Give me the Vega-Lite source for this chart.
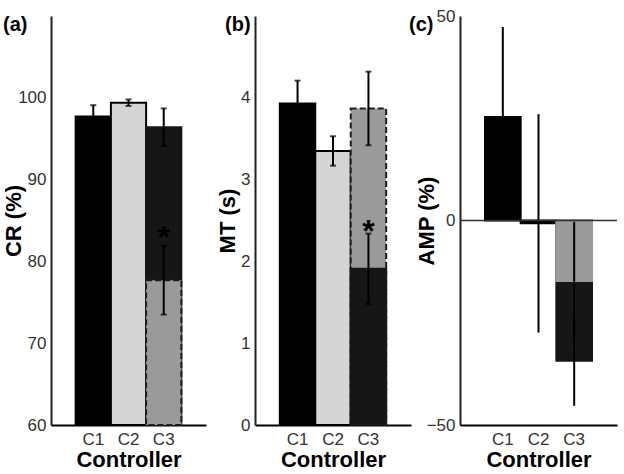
{
  "$schema": "https://vega.github.io/schema/vega-lite/v6.json",
  "autosize": {"type": "pad"},
  "padding": {"left": 2, "top": 7, "right": 0, "bottom": 0},
  "spacing": 49,
  "bounds": "flush",
  "background": "#ffffff",
  "config": {
    "view": {"stroke": null},
    "font": "Liberation Sans",
    "axis": {
      "grid": false, "ticks": false,
      "labelFont": "Liberation Sans", "labelFontSize": 17, "labelColor": "#333333",
      "titleFont": "Liberation Sans", "titleFontSize": 22, "titleFontWeight": "bold", "titleColor": "#000000",
      "domainColor": "#222222", "domainWidth": 2, "labelPadding": 5
    },
    "axisX": {"labelAngle": 0, "labelPadding": 6, "titlePadding": 2, "domainColor": "#000000"},
    "title": {"font": "Liberation Sans", "fontSize": 20, "fontWeight": "bold", "color": "#000000", "anchor": "start", "frame": "group", "baseline": "middle"}
  },
  "datasets": {
    "cr": [
      {"ctrl": "C1", "kind": "black", "value": 97.7, "lo": 96.3, "hi": 99.1},
      {"ctrl": "C2", "kind": "light", "value": 99.4, "lo": 99.0, "hi": 99.8},
      {"ctrl": "C3", "kind": "dark", "value": 96.4, "lo": 94.1, "hi": 98.7},
      {"ctrl": "C3", "kind": "gray", "value": 77.7, "lo": 73.5, "hi": 81.9}
    ],
    "mt": [
      {"ctrl": "C1", "kind": "black", "value": 3.93, "lo": 3.65, "hi": 4.21},
      {"ctrl": "C2", "kind": "light", "value": 3.35, "lo": 3.17, "hi": 3.53},
      {"ctrl": "C3", "kind": "gray", "value": 3.87, "lo": 3.42, "hi": 4.32},
      {"ctrl": "C3", "kind": "dark", "value": 1.91, "lo": 1.48, "hi": 2.34}
    ],
    "amp": [
      {"ctrl": "C1", "kind": "black", "value": 25.3, "lo": 3.3, "hi": 47.3},
      {"ctrl": "C2", "kind": "black", "value": -0.7, "lo": -27.4, "hi": 26.0},
      {"ctrl": "C3", "kind": "dark", "value": -34.3, "lo": -45.3, "hi": -23.3},
      {"ctrl": "C3", "kind": "gray2", "value": -14.8, "lo": -29.3, "hi": -0.3}
    ]
  },
  "hconcat": [
    {
      "width": 155, "height": 409,
      "title": {"text": "(a)", "dx": -48, "offset": -19},
      "data": {"name": "cr"},
      "encoding": {"x": {"field": "ctrl", "type": "nominal", "scale": {"paddingInner": 0, "paddingOuter": 0.7}, "axis": {"title": "Controller"}}},
      "layer": [
        {
          "mark": {"type": "bar", "strokeWidth": 2},
          "encoding": {
            "y": {"field": "value", "type": "quantitative", "stack": null, "scale": {"domain": [60, 110], "nice": false, "zero": false}, "axis": {"title": "CR (%)", "values": [60, 70, 80, 90, 100], "format": "d", "titlePadding": -8}},
            "y2": {"datum": 60},
            "color": {"field": "kind", "type": "nominal", "scale": {"domain": ["black", "light", "dark", "gray", "gray2"], "range": ["#000000", "#d5d5d5", "#161616", "#9a9a9a", "#9a9a9a"]}, "legend": null},
            "stroke": {"field": "kind", "type": "nominal", "scale": {"domain": ["black", "light", "dark", "gray", "gray2"], "range": ["#000000", "#000000", "#161616", "#1e1e1e", "#9a9a9a"]}, "legend": null},
            "strokeDash": {"field": "kind", "type": "nominal", "scale": {"domain": ["black", "light", "dark", "gray", "gray2"], "range": [[1, 0], [1, 0], [1, 0], [6, 3], [1, 0]]}, "legend": null}
          }
        },
        {"mark": {"type": "rule", "strokeWidth": 2, "color": "#000000"}, "encoding": {"y": {"field": "lo", "type": "quantitative"}, "y2": {"field": "hi"}}},
        {"mark": {"type": "tick", "thickness": 2, "size": 6, "color": "#000000"}, "encoding": {"y": {"field": "lo", "type": "quantitative"}}},
        {"mark": {"type": "tick", "thickness": 2, "size": 6, "color": "#000000"}, "encoding": {"y": {"field": "hi", "type": "quantitative"}}},
        {
          "data": {"values": [{"ctrl": "C3", "pos": 83.7, "label": "*"}]},
          "mark": {"type": "text", "fontSize": 32, "fontWeight": "bold", "baseline": "middle", "dy": 7, "color": "#000000"},
          "encoding": {"y": {"field": "pos", "type": "quantitative"}, "text": {"field": "label"}}
        }
      ]
    },
    {
      "width": 156, "height": 409,
      "title": {"text": "(b)", "dx": -30, "offset": -19},
      "data": {"name": "mt"},
      "encoding": {"x": {"field": "ctrl", "type": "nominal", "scale": {"paddingInner": 0, "paddingOuter": 0.7}, "axis": {"title": "Controller"}}},
      "layer": [
        {
          "mark": {"type": "bar", "strokeWidth": 2},
          "encoding": {
            "y": {"field": "value", "type": "quantitative", "stack": null, "scale": {"domain": [0, 5], "nice": false}, "axis": {"title": "MT (s)", "values": [0, 1, 2, 3, 4], "format": "d", "titlePadding": 1}},
            "color": {"field": "kind", "type": "nominal", "scale": {"domain": ["black", "light", "dark", "gray", "gray2"], "range": ["#000000", "#d5d5d5", "#161616", "#9a9a9a", "#9a9a9a"]}, "legend": null},
            "stroke": {"field": "kind", "type": "nominal", "scale": {"domain": ["black", "light", "dark", "gray", "gray2"], "range": ["#000000", "#000000", "#161616", "#1e1e1e", "#9a9a9a"]}, "legend": null},
            "strokeDash": {"field": "kind", "type": "nominal", "scale": {"domain": ["black", "light", "dark", "gray", "gray2"], "range": [[1, 0], [1, 0], [1, 0], [6, 3], [1, 0]]}, "legend": null}
          }
        },
        {"mark": {"type": "rule", "strokeWidth": 2, "color": "#000000"}, "encoding": {"y": {"field": "lo", "type": "quantitative"}, "y2": {"field": "hi"}}},
        {"mark": {"type": "tick", "thickness": 2, "size": 6, "color": "#000000"}, "encoding": {"y": {"field": "lo", "type": "quantitative"}}},
        {"mark": {"type": "tick", "thickness": 2, "size": 6, "color": "#000000"}, "encoding": {"y": {"field": "hi", "type": "quantitative"}}},
        {
          "data": {"values": [{"ctrl": "C3", "pos": 2.44, "label": "*"}]},
          "mark": {"type": "text", "fontSize": 32, "fontWeight": "bold", "baseline": "middle", "dy": 7, "color": "#000000"},
          "encoding": {"y": {"field": "pos", "type": "quantitative"}, "text": {"field": "label"}}
        }
      ]
    },
    {
      "width": 157, "height": 409,
      "title": {"text": "(c)", "dx": -51, "offset": -28},
      "data": {"name": "amp"},
      "layer": [
        {
          "mark": {"type": "bar", "strokeWidth": 2},
          "encoding": {
            "x": {"field": "ctrl", "type": "nominal", "scale": {"paddingInner": 0, "paddingOuter": 0.7}, "axis": {"title": "Controller"}},
            "y": {"field": "value", "type": "quantitative", "stack": null, "scale": {"domain": [-50, 50], "nice": false}, "axis": {"title": "AMP (%)", "values": [-50, 0, 50], "format": "d", "titlePadding": -12}},
            "color": {"field": "kind", "type": "nominal", "scale": {"domain": ["black", "light", "dark", "gray", "gray2"], "range": ["#000000", "#d5d5d5", "#161616", "#9a9a9a", "#9a9a9a"]}, "legend": null},
            "stroke": {"field": "kind", "type": "nominal", "scale": {"domain": ["black", "light", "dark", "gray", "gray2"], "range": ["#000000", "#000000", "#161616", "#1e1e1e", "#9a9a9a"]}, "legend": null},
            "strokeDash": {"field": "kind", "type": "nominal", "scale": {"domain": ["black", "light", "dark", "gray", "gray2"], "range": [[1, 0], [1, 0], [1, 0], [6, 3], [1, 0]]}, "legend": null}
          }
        },
        {"mark": {"type": "rule", "strokeWidth": 2, "color": "#000000"}, "encoding": {"x": {"field": "ctrl", "type": "nominal"}, "y": {"field": "lo", "type": "quantitative"}, "y2": {"field": "hi"}}},
        {
          "data": {"values": [{"z": 0}]},
          "mark": {"type": "rule", "strokeWidth": 1.5, "color": "#333333"},
          "encoding": {"y": {"field": "z", "type": "quantitative"}}
        }
      ]
    }
  ]
}
